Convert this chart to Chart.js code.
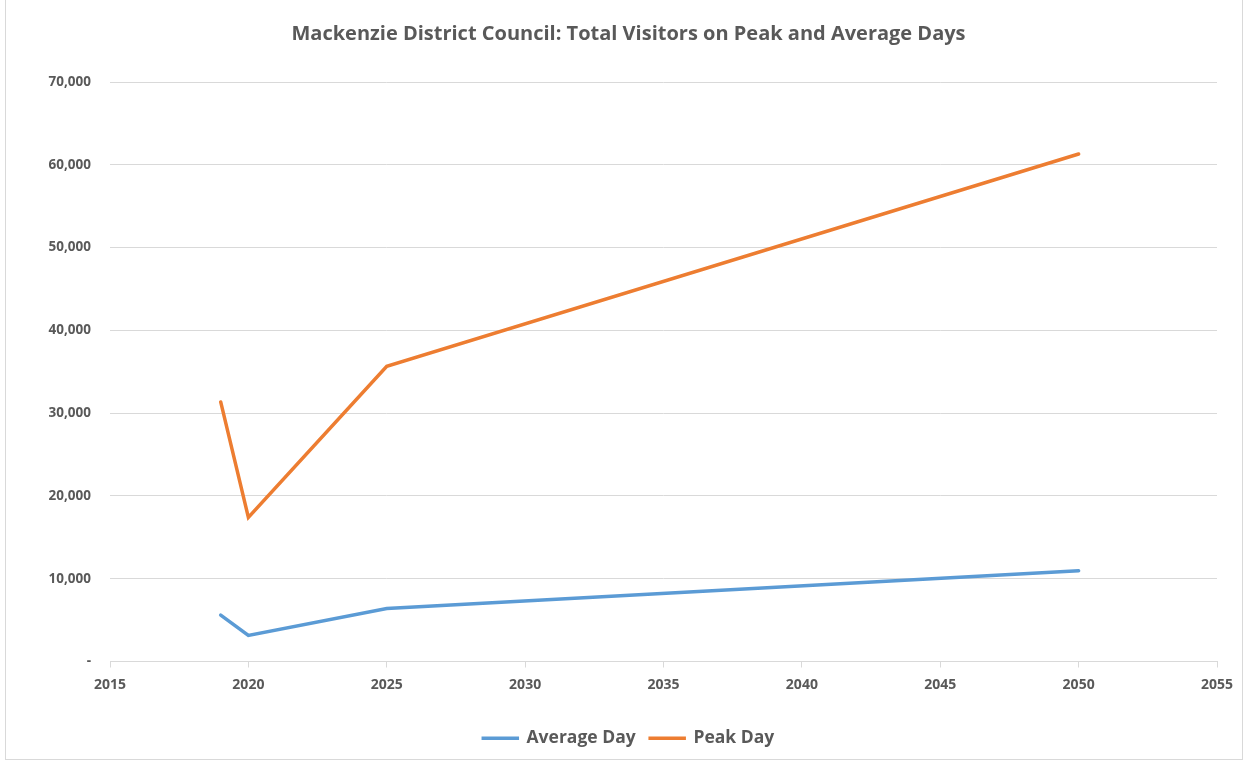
<!DOCTYPE html>
<html>
<head>
<meta charset="utf-8">
<script src="https://cdn.jsdelivr.net/npm/chart.js@4/dist/chart.umd.min.js"></script>
<style>
  html, body { margin: 0; padding: 0; background: #fff; }
  #wrap { position: relative; width: 1248px; height: 762px; }
  #frame { position: absolute; left: 5px; top: -1px; width: 1238px; height: 761px; border: 1px solid #d9d9d9; box-sizing: border-box; pointer-events: none; }
</style>
</head>
<body>
<div id="wrap">
  <canvas id="myChart" width="1248" height="762"></canvas>
  <div id="frame"></div>
</div>
<script>
const years = [2019, 2020, 2025, 2050];
const averageDay = [5600, 3150, 6400, 10950];
const peakDay = [31350, 17400, 35650, 61300];
const xTicks = [2015, 2020, 2025, 2030, 2035, 2040, 2045, 2050, 2055];
const yTicks = [0, 10000, 20000, 30000, 40000, 50000, 60000, 70000];

const grey = '#595959';
const toPoints = (vals) => vals.map((v, i) => ({ x: years[i], y: v }));

const renderChart = () => {
    var ctx = document.getElementById('myChart').getContext('2d');
    new Chart(ctx, {
        type: 'line',
        data: {
            datasets: [{
                label: 'Average Day',
                data: toPoints(averageDay),
                borderColor: '#5B9BD5',
                backgroundColor: '#5B9BD5',
                borderWidth: 3.5,
                pointRadius: 0,
                borderCapStyle: 'round',
                tension: 0
            }, {
                label: 'Peak Day',
                data: toPoints(peakDay),
                borderColor: '#ED7D31',
                backgroundColor: '#ED7D31',
                borderWidth: 3.5,
                pointRadius: 0,
                borderCapStyle: 'round',
                tension: 0
            }]
        },
        options: {
            responsive: false,
            animation: false,
            layout: { padding: { left: 40, right: 31, top: 0, bottom: 5 } },
            scales: {
                x: {
                    type: 'linear',
                    min: xTicks[0],
                    max: xTicks[xTicks.length - 1],
                    afterBuildTicks: (scale) => { scale.ticks = xTicks.map(v => ({ value: v })); },
                    grid: { drawOnChartArea: false, drawTicks: true, tickLength: 6, color: '#d9d9d9' },
                    border: { color: '#d9d9d9', width: 1 },
                    ticks: {
                        color: grey,
                        font: { family: 'Open Sans', weight: 'bold', size: 14 },
                        padding: 9,
                        callback: (v) => String(v)
                    },
                    afterFit: (scale) => { scale.height = 54; }
                },
                y: {
                    min: 0,
                    max: 70000,
                    afterBuildTicks: (scale) => { scale.ticks = yTicks.map(v => ({ value: v })); },
                    grid: { drawTicks: false, color: '#d9d9d9', lineWidth: 1 },
                    border: { display: false },
                    ticks: {
                        color: grey,
                        font: { family: 'Open Sans', weight: 'bold', size: 13.5 },
                        padding: 19,
                        callback: (v) => v === 0 ? '-' : v.toLocaleString('en-US')
                    },
                    afterFit: (scale) => { scale.width = 70; }
                }
            },
            plugins: {
                title: {
                    display: true,
                    text: 'Mackenzie District Council: Total Visitors on Peak and Average Days',
                    color: grey,
                    font: { family: 'Open Sans', weight: 'bold', size: 20 },
                    padding: { top: 22, bottom: 36 }
                },
                legend: {
                    display: true,
                    position: 'bottom',
                    labels: {
                        color: grey,
                        font: { family: 'Open Sans', weight: 'bold', size: 17.5 },
                        boxWidth: 35,
                        boxHeight: 1,
                        padding: 14,
                        generateLabels: (chart) => Chart.defaults.plugins.legend.labels.generateLabels(chart)
                            .map(l => ({ ...l, lineWidth: 2.5 }))
                    }
                },
                tooltip: { enabled: false }
            }
        }
    });
};

renderChart();
</script>
</body>
</html>
